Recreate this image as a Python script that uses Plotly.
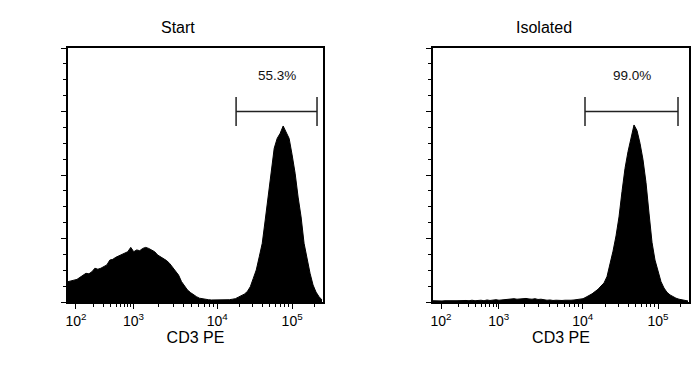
import plotly.graph_objects as go

# ---------------- data ----------------
panel_titles = ["Start", "Isolated"]
axis_title = "CD3 PE"

# histogram heights (% of y range) on a display-channel axis (0..1024), bin step 12
bin_step = 12
start_counts = [
    8.0, 8.4, 8.7, 8.9, 9.7, 10.6, 11.3, 11.1, 11.9, 13.3,
    12.9, 13.3, 13.9, 14.6, 16.5, 16.8, 17.6, 18.1, 18.5, 19.2,
    19.8, 21.5, 19.8, 20.5, 20.2, 21.1, 21.5, 21.1, 20.5, 19.8,
    18.5, 17.8, 17.2, 16.3, 15.2, 13.7, 11.9, 10.6, 8.0, 6.3,
    4.7, 3.7, 2.8, 2.1, 1.5, 1.2, 1.1, 0.9, 0.8, 0.8,
    0.8, 0.8, 0.8, 0.8, 0.9, 1.1, 1.3, 1.9, 2.4, 3.1,
    4.1, 6.0, 9.3, 12.6, 17.8, 23.1, 32.3, 41.5, 51.3, 60.5,
    64.4, 66.4, 69.3, 67.0, 64.4, 57.9, 50.7, 41.3, 33.5, 23.1,
    16.5, 11.3, 6.7, 3.9, 2.1, 0.8,
]
isolated_counts = [
    0.5, 0.4, 0.6, 0.4, 0.5, 0.6, 0.4, 0.5, 0.5, 0.6,
    0.4, 0.6, 0.5, 0.7, 0.5, 0.6, 0.7, 0.5, 0.8, 0.6,
    0.7, 0.9, 0.7, 0.8, 1.0, 0.9, 1.1, 1.3, 1.1, 1.3,
    1.2, 1.4, 1.2, 1.1, 1.3, 1.0, 1.1, 0.8, 0.7, 0.8,
    0.6, 0.7, 0.6, 0.6, 0.7, 0.6, 0.7, 0.8, 0.9, 1.0,
    1.3, 1.9, 2.5, 3.2, 4.1, 5.0, 6.3, 7.5, 10.0, 14.5,
    20.0, 26.0, 33.5, 43.5, 52.6, 59.2, 65.0, 69.7, 67.5, 62.5,
    56.0, 47.0, 35.0, 23.5, 16.5, 11.8, 8.0, 5.5, 3.8, 2.8,
    2.0, 1.5, 1.1, 0.8, 0.5, 0.4,
]

# x-axis decade ticks on the display-channel scale
decade_channels = [32, 263, 599, 900]
decade_powers = [2, 3, 4, 5]
decade_labels = ["10<sup>%d</sup>" % p for p in decade_powers]

# gates (display channels) and their labels
gate_ranges = [[675, 1000], [608, 980]]
gate_labels = ["55.3%", "99.0%"]
gate_level = 75
gate_cap = 5.7
gate_label_level = 89

# ---------------- helpers ----------------
def minor_channels():
    # 2..9 x 10^k positions between decade ticks (log spacing inside each decade)
    import math
    pos = []
    chans = decade_channels + [decade_channels[-1] + (decade_channels[-1] - decade_channels[-2])]
    for k in range(len(decade_channels)):
        c0, c1 = chans[k], chans[k + 1]
        for m in range(2, 10):
            c = c0 + math.log10(m) * (c1 - c0)
            if c <= 1024:
                pos.append(c)
    return pos

fig = go.Figure()
series = [start_counts, isolated_counts]
xaxes = ["x", "x2"]
yaxes = ["y", "y2"]
for s, xa, ya in zip(series, xaxes, yaxes):
    chans = [i * bin_step for i in range(len(s))]
    fig.add_trace(go.Scatter(
        x=chans, y=s, xaxis=xa, yaxis=ya, mode="lines",
        line=dict(color="black", width=1), fill="tozeroy", fillcolor="black",
        hoverinfo="skip", showlegend=False))

for (g0, g1), xa, ya, lab in zip(gate_ranges, xaxes, yaxes, gate_labels):
    fig.add_trace(go.Scatter(
        x=[g0, g0, None, g0, g1, None, g1, g1],
        y=[gate_level - gate_cap, gate_level + gate_cap, None, gate_level, gate_level, None,
           gate_level - gate_cap, gate_level + gate_cap],
        xaxis=xa, yaxis=ya, mode="lines", line=dict(color="#222", width=1.5),
        hoverinfo="skip", showlegend=False))
    fig.add_annotation(x=(g0 + g1) / 2, y=gate_label_level, xref=xa, yref=ya,
                       text=lab, showarrow=False, font=dict(size=13.5, color="#111"))

font_family = "Arial, Liberation Sans, Helvetica, sans-serif"
ydom = [66 / 368, 320 / 368]
xdoms = [[68 / 700, 323 / 700], [433 / 700, 689 / 700]]
minors = minor_channels()

xcommon = dict(range=[0, 1024], tickmode="array", tickvals=decade_channels, ticktext=decade_labels,
               ticks="outside", ticklen=5, tickwidth=1.3, tickcolor="black",
               showline=True, linecolor="black", linewidth=1.8, mirror=True,
               showgrid=False, zeroline=False, automargin=False,
               tickfont=dict(size=14, color="black", family=font_family),
               minor=dict(tickmode="array", tickvals=minors, ticks="outside", ticklen=3,
                          tickwidth=1, tickcolor="black", showgrid=False),
               title=dict(text=axis_title, font=dict(size=16, color="black", family=font_family),
                          standoff=4))
ycommon = dict(range=[0, 100], tickmode="linear", tick0=0, dtick=25, showticklabels=False,
               ticks="outside", ticklen=5, tickwidth=1.3, tickcolor="black",
               showline=True, linecolor="black", linewidth=1.8, mirror=True,
               showgrid=False, zeroline=False, automargin=False,
               minor=dict(dtick=6.25, ticks="outside", ticklen=3, tickwidth=1,
                          tickcolor="black", showgrid=False))

fig.update_layout(
    width=700, height=368, margin=dict(l=0, r=0, t=0, b=0),
    paper_bgcolor="white", plot_bgcolor="white",
    font=dict(family=font_family, color="black"),
    xaxis=dict(domain=xdoms[0], anchor="y", **xcommon),
    yaxis=dict(domain=ydom, anchor="x", **ycommon),
    xaxis2=dict(domain=xdoms[1], anchor="y2", **xcommon),
    yaxis2=dict(domain=ydom, anchor="x2", **ycommon),
)

title_x = [178 / 700, 544 / 700]
for t, tx in zip(panel_titles, title_x):
    fig.add_annotation(x=tx, y=(368 - 27) / 368, xref="paper", yref="paper", text=t,
                       showarrow=False, font=dict(size=16, color="black", family=font_family),
                       xanchor="center", yanchor="middle")

fig.write_html("out.html", config={"displayModeBar": False},
               post_script="document.body.style.margin='0';document.body.style.overflow='hidden';")
